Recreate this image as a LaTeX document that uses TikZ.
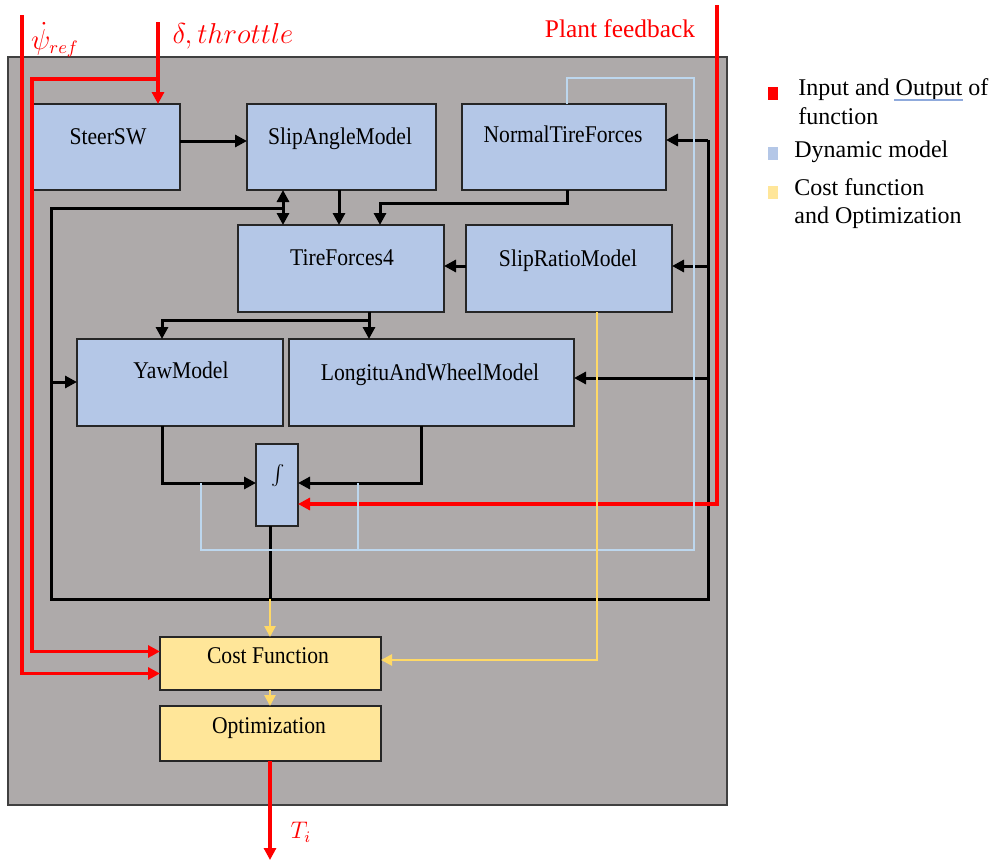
\documentclass[tikz,border=0pt]{standalone}
\usepackage{fontspec}
\setmainfont{Liberation Serif}
\newfontfamily\boxfont[FakeStretch=0.9]{Liberation Serif}
\usetikzlibrary{arrows.meta,fit,calc}
\definecolor{bgray}{RGB}{174,170,170}
\definecolor{boxblue}{RGB}{180,199,231}
\definecolor{boxyel}{RGB}{255,230,153}
\definecolor{lineyel}{RGB}{255,217,102}
\definecolor{lineblue}{RGB}{189,215,238}
\definecolor{ulblue}{RGB}{143,170,220}
\begin{document}
\begin{tikzpicture}[x=0.5pt,y=-0.5pt,
 box/.style={draw=black!85, line width=0.8pt, fill=boxblue, inner sep=0pt, outer sep=0pt},
 ybox/.style={box, fill=boxyel},
 txt/.style={font=\boxfont\fontsize{12}{14}\selectfont, inner sep=0pt, anchor=base},
 lgt/.style={font=\fontsize{12}{14}\selectfont, inner sep=0pt, anchor=base west},
 sq/.style={minimum width=5pt, minimum height=6.5pt, inner sep=0pt},
 tip/.style={-{Triangle[length=6pt,width=6pt]}},
 ytip/.style={-{Triangle[length=5.5pt,width=5.5pt]}},
 dtip/.style={{Triangle[length=6pt,width=6pt]}-{Triangle[length=6pt,width=6pt]}},
 blk/.style={line width=1.5pt, black},
 redl/.style={line width=1.6pt, red},
 yell/.style={line width=1.3pt, lineyel},
 bluel/.style={line width=1.25pt, lineblue},
]
\useasboundingbox (0,0) rectangle (993,863);
\node[fill=bgray, draw=black!75, line width=0.6pt, inner sep=0pt, fit={(8,57)(727,805)}] (panel) {};

% boxes
\node[box, fit={(33,104)(180,190)}] (steer) {};
\node[box, fit={(247,104)(436,190)}] (slipa) {};
\node[box, fit={(462,104)(666,190)}] (normal) {};
\node[box, fit={(238,225)(444,312)}] (tire) {};
\node[box, fit={(466,225)(672,312)}] (slipr) {};
\node[box, fit={(77,339)(283,426)}] (yaw) {};
\node[box, fit={(289,339)(574,426)}] (longi) {};
\node[box, fit={(256,444)(298,526)}] (integ) {};
\node[ybox, fit={(160,637)(381,690)}] (cost) {};
\node[ybox, fit={(160,706)(381,761)}] (opt) {};

% box texts
\node[txt] (steer-t) at (108,144) {SteerSW};
\node[txt] (slipa-t) at (340,144) {SlipAngleModel};
\node[txt] (normal-t) at (563,142) {NormalTireForces};
\node[txt] (tire-t) at (342,265) {TireForces4};
\node[txt] (slipr-t) at (568,266) {SlipRatioModel};
\node[txt] (yaw-t) at (181,378) {YawModel};
\node[txt] (longi-t) at (430,380) {LongituAndWheelModel};
\node[font=\fontsize{12}{14}\selectfont, inner sep=0pt] (integ-t) at (278,476) {$\int$};
\node[txt] (cost-t) at (268,663) {Cost Function};
\node[txt] (opt-t) at (269,733) {Optimization};

% junction coordinates
\coordinate (jl) at (51,208);
\coordinate (jd) at (283,208);
\coordinate (lb) at (51,599);
\coordinate (rb) at (708,599);
\coordinate (rt) at (708,140);
\coordinate (r266) at (708,266);
\coordinate (r378) at (708,378);
\coordinate (l382) at (51,382);
\coordinate (n1) at (567,203);
\coordinate (n2) at (380,203);
\coordinate (s1) at (339,208);
\coordinate (t266) at (455,266);
\coordinate (t1) at (369,320);
\coordinate (t2) at (162,320);
\coordinate (y1) at (162,483);
\coordinate (l1) at (421,483);
\coordinate (i1) at (270,599);
\coordinate (c1) at (597,660);
\coordinate (sw) at (0,141);

% black connectors
\draw[blk,tip] (steer.east |- sw) -- (slipa.west |- sw);
\draw[blk,tip] (s1 |- slipa.south) -- (s1 |- tire.north);
\draw[blk,dtip] (jd |- slipa.south) -- (jd |- tire.north);
\draw[blk] (jd) -- (jl) -- (lb) -- (rb) -- (rt);
\draw[blk,tip] (rt) -- (rt -| normal.east);
\draw[blk,tip] (r266) -- (r266 -| slipr.east);
\draw[blk,tip] (r378) -- (r378 -| longi.east);
\draw[blk,tip] (l382) -- (l382 -| yaw.west);
\draw[blk,tip] (n1 |- normal.south) -- (n1) -- (n2) -- (n2 |- tire.north);
\draw[blk,tip] (t266 -| slipr.west) -- (t266 -| tire.east);
\draw[blk] (t1 |- tire.south) -- (t1);
\draw[blk,tip] (t1) -- (t1 |- longi.north);
\draw[blk,tip] (t1) -- (t2) -- (t2 |- yaw.north);
\draw[blk,tip] (y1 |- yaw.south) -- (y1) -- (y1 -| integ.west);
\draw[blk,tip] (l1 |- longi.south) -- (l1) -- (l1 -| integ.east);
\draw[blk] (i1 |- integ.south) -- (i1);

% red inputs / outputs
\coordinate (psitop) at (22,15);
\coordinate (dtop) at (158,22);
\coordinate (dj) at (158,79);
\coordinate (dl) at (32,79);
\coordinate (pftop) at (717,5);
\coordinate (tout) at (270,860);
\draw[redl,tip] (dtop) -- (dtop |- steer.north);
\draw[redl,tip] (dj) -- (dl) -- ($(dl |- cost.west)+(0,-12)$) -- ($(cost.west)+(0,-12)$);
\draw[redl,tip] (psitop) |- ($(cost.west)+(0,10)$);
\draw[redl,tip] (pftop) |- ($(integ.east)+(0,19)$);
\draw[redl,tip] (opt.south -| tout) -- (tout);

% light blue lines
\coordinate (b1) at (567,78);
\coordinate (b2) at (694,78);
\coordinate (b3) at (694,550);
\coordinate (b4) at (201,550);
\coordinate (b5) at (201,483);
\coordinate (b6) at (358,550);
\coordinate (b7) at (358,483);
\draw[bluel] (b1 |- normal.north) -- (b1) -- (b2) -- (b3) -- (b4) -- (b5);
\draw[bluel] (b6) -- (b7);

% yellow lines
\draw[yell,ytip] (i1) -- (i1 |- cost.north);
\draw[yell,ytip] (c1 |- slipr.south) -- (c1) -- (c1 -| cost.east);
\draw[yell,ytip] (i1 |- cost.south) -- (i1 |- opt.north);

% labels
\node[red, font=\fontsize{13.5}{15}\selectfont, inner sep=0pt] (psi-l) at (55,40) {$\dot{\psi}_{ref}$};
\node[red, font=\fontsize{13.5}{15}\selectfont, inner sep=0pt] (delta-l) at (233,36) {$\delta, throttle$};
\node[red, font=\fontsize{12.7}{14}\selectfont, inner sep=0pt, anchor=base] (pf-l) at (620,37) {Plant feedback};
\node[red, font=\fontsize{12}{14}\selectfont, inner sep=0pt] (ti-l) at (301,832) {$T_i$};

% legend
\node[sq, fill=red] (lg-r) at (773,93.5) {};
\node[sq, fill=boxblue] (lg-b) at (773,153) {};
\node[sq, fill=boxyel] (lg-y) at (773,192.5) {};
\node[lgt] (lg-r1) at (798,95) {Input and Output of};
\node[lgt] (lg-r2) at (798,124) {function};
\node[lgt] (lg-b1) at (794,157) {Dynamic model};
\node[lgt] (lg-y1) at (794,195) {Cost function};
\node[lgt] (lg-y2) at (794,223) {and Optimization};
\coordinate (ul1) at (894,100);
\coordinate (ul2) at (963,100);
\draw[ulblue, line width=1pt] (ul1) -- (ul2);
\end{tikzpicture}
\end{document}
